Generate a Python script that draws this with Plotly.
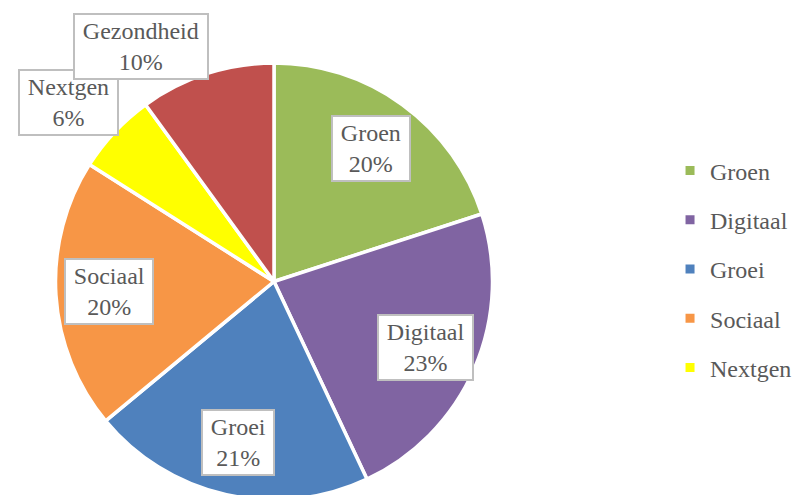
import math
import plotly.graph_objects as go

labels = ["Groen", "Digitaal", "Groei", "Sociaal", "Nextgen", "Gezondheid"]
values = [20, 23, 21, 20, 6, 10]
colors = ["#9BBB59", "#8064A2", "#4F81BD", "#F79646", "#FFFF00", "#C0504D"]
legend_labels = ["Groen", "Digitaal", "Groei", "Sociaal", "Nextgen"]

W, H = 792, 500
dom_x = [55.5 / W, 492.5 / W]
dom_y = [0.0, 437 / H]
wpx = (dom_x[1] - dom_x[0]) * W
hpx = (dom_y[1] - dom_y[0]) * H
R = min(wpx, hpx) / 2
CX = (dom_x[0] + dom_x[1]) / 2 * W
CY = H - (dom_y[0] + dom_y[1]) / 2 * H

fig = go.Figure()
fig.add_trace(go.Pie(
    labels=labels, values=values, sort=False, direction="clockwise", rotation=0,
    marker=dict(colors=colors, line=dict(color="white", width=3.5)),
    textinfo="none", hoverinfo="label+percent", showlegend=False,
    domain=dict(x=dom_x, y=dom_y),
))

for lab in legend_labels:
    fig.add_trace(go.Scatter(
        x=[None], y=[None], mode="markers", name=lab, legendgroup=lab,
        marker=dict(symbol="square", size=9, color=colors[labels.index(lab)]),
        showlegend=True,
    ))

total = sum(values)
cum = 0
font = dict(family="Liberation Serif, Times New Roman, serif", size=24, color="#595959")
sp = "\u2009"
for lab, v in zip(labels, values):
    mid = (cum + v / 2) / total * 2 * math.pi
    cum += v
    s, c = math.sin(mid), math.cos(mid)
    if v / total <= 0.10:
        rf = 0.97
        xa = "right" if s < 0 else "left"
        ya = "bottom" if c > 0 else "top"
    else:
        rf = 0.755
        xa, ya = "center", "middle"
    px = CX + rf * R * s
    py = CY - rf * R * c
    pct = round(v / total * 100)
    fig.add_annotation(
        x=px / W, y=1 - py / H, xref="paper", yref="paper",
        text=f"{sp}{lab}{sp}<br>{pct}%", showarrow=False,
        font=font, bgcolor="white", bordercolor="#BFBFBF", borderwidth=2, borderpad=3,
        xanchor=xa, yanchor=ya,
    )

fig.update_layout(
    width=W, height=H, margin=dict(l=0, r=0, t=0, b=0, autoexpand=False),
    paper_bgcolor="white", plot_bgcolor="white",
    xaxis=dict(visible=False), yaxis=dict(visible=False),
    showlegend=True,
    legend=dict(x=0.846, y=1 - 269 / H, xanchor="left", yanchor="middle",
                font=font, tracegroupgap=15, itemwidth=30,
                bgcolor="rgba(0,0,0,0)"),
)
fig.write_html(
    "out.html",
    config={"displayModeBar": False},
    post_script="document.body.style.margin='0';document.body.style.overflow='hidden';",
)
